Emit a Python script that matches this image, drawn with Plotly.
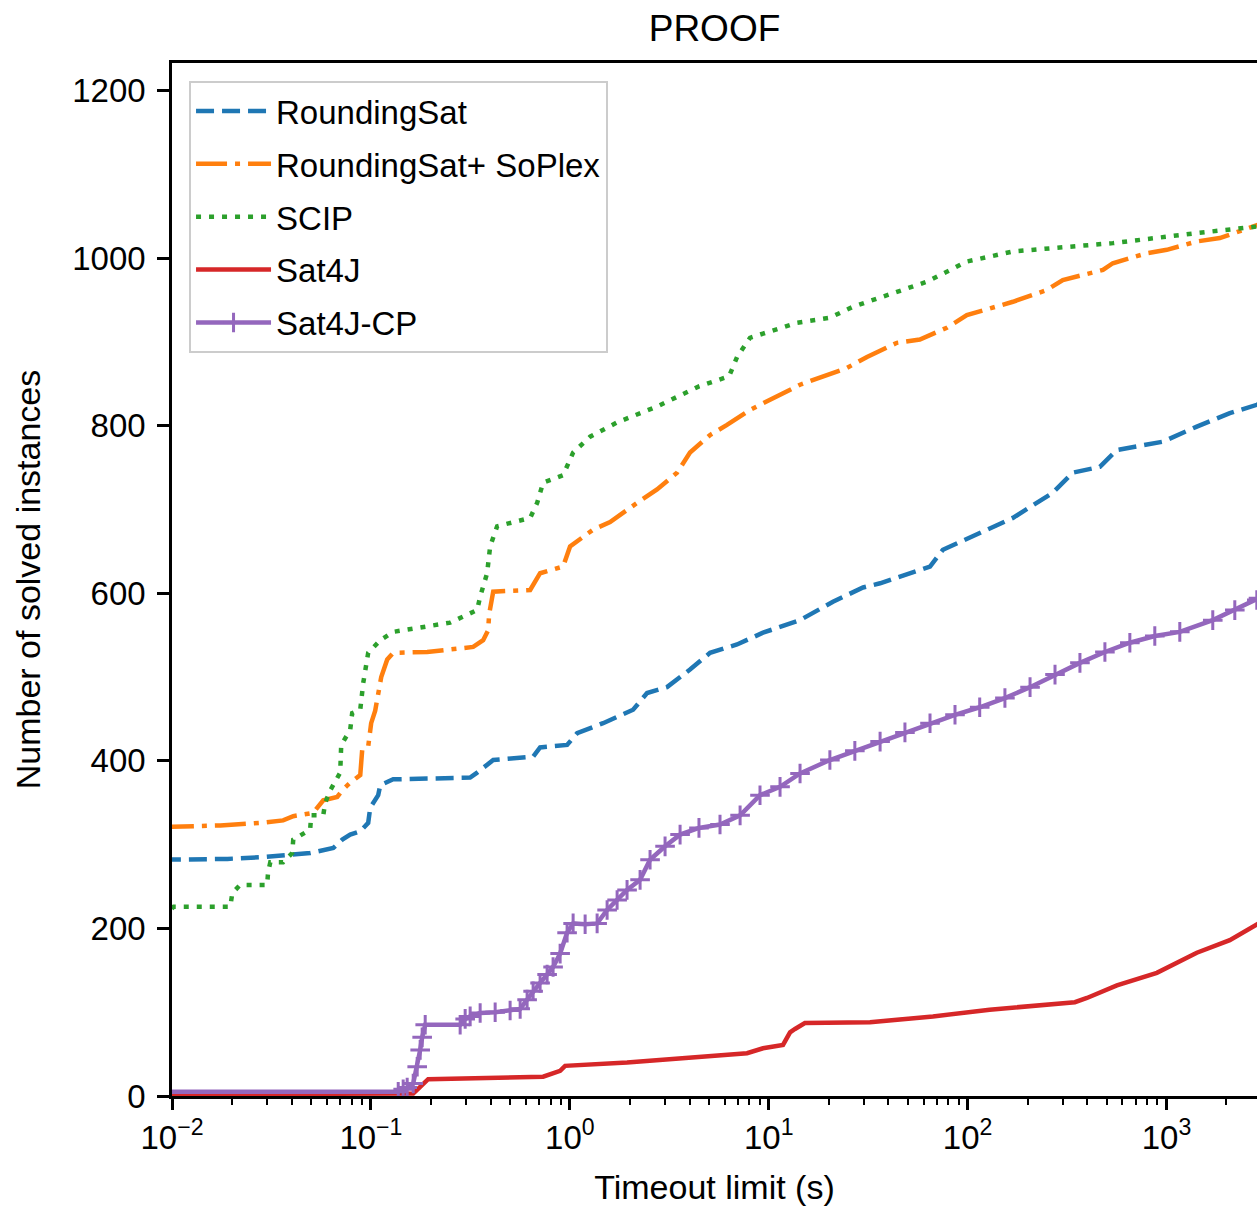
import math
import plotly.graph_objects as go

# ---------------- data ----------------
rs_time = [0.009, 0.019, 0.0278, 0.038, 0.0495, 0.0647, 0.0718, 0.0787, 0.0884, 0.0969, 0.0992,
           0.1088, 0.1114, 0.1294, 0.3155, 0.342, 0.412, 0.654, 0.709, 0.969, 1.088, 1.47, 2.08,
           2.446, 3.08, 4.02, 5.07, 6.93, 9.36, 14.37, 21.04, 29.8, 36.3, 64.7, 75.1, 168.9, 268,
           338, 462, 563, 958, 1420, 2080, 2844, 2900]
rs_count = [282, 283, 285, 288, 290, 296, 306, 312, 316, 326, 344,
            359, 371, 378, 380, 386, 401, 405, 416, 419, 433, 445, 461,
            481, 488, 509, 529, 539, 553, 568, 590, 607, 612, 632, 652, 690, 720,
            744, 751, 771, 781, 799, 815, 825, 826]

rss_time = [0.009, 0.0175, 0.0278, 0.0362, 0.0407, 0.0513, 0.0576, 0.0677, 0.0718, 0.0787, 0.0884,
            0.0904, 0.0969, 0.1003, 0.1051, 0.1088, 0.1127, 0.1208, 0.1294, 0.1918, 0.3268, 0.3667,
            0.3885, 0.393, 0.412, 0.632, 0.709, 0.925, 1.003, 1.31, 1.594, 2.18, 2.745, 3.46, 4.02,
            5.07, 6.17, 8.05, 10.51, 14.37, 24.7, 31.2, 44.1, 57.5, 78.6, 99.1, 168.9, 250, 301,
            479, 537, 796, 1003, 1420, 1853, 2844, 2900]
rss_count = [321, 323, 326, 329, 334, 338, 353, 357, 365, 374, 383,
             413, 417, 445, 460, 480, 500, 521, 529, 530, 536, 544,
             556, 575, 602, 604, 624, 632, 656, 676, 685, 708, 724, 744, 768,
             789, 801, 819, 833, 849, 869, 882, 899, 903, 917, 932, 948, 962, 974,
             986, 994, 1006, 1010, 1020, 1024, 1039, 1040]

scip_time = [0.009, 0.0102, 0.01963, 0.0201, 0.022, 0.0301, 0.0304, 0.0312, 0.0362, 0.0402, 0.0407,
             0.0495, 0.0501, 0.0576, 0.0589, 0.0625, 0.0701, 0.0709, 0.0787, 0.0805, 0.0884, 0.0915,
             0.0969, 0.1114, 0.1294, 0.1918, 0.2503, 0.342, 0.3542, 0.384, 0.3976, 0.431, 0.632,
             0.685, 0.734, 0.925, 1.039, 1.265, 1.729, 2.745, 4.46, 6.32, 6.93, 8.05, 13.88, 20.3,
             26.5, 62.5, 84.4, 99.1, 168.9, 537, 1420, 2844, 2900]
scip_count = [212, 226, 226, 242, 252, 252, 267, 279, 279, 290, 306,
              318, 335, 335, 350, 365, 386, 419, 437, 457, 461, 493,
              529, 544, 554, 560, 565, 580, 596, 624, 656, 680, 690,
              708, 732, 741, 768, 787, 804, 823, 847, 859, 882, 905, 923, 929,
              942, 972, 988, 996, 1008, 1018, 1030, 1038, 1038]

sat4j_time = [0.009, 0.1632, 0.1769, 0.194, 0.734, 0.894, 0.947, 1.94, 7.78, 9.36, 11.8, 12.8,
              13.56, 15.2, 32.3, 66.9, 129, 230.8, 346, 398, 563, 894, 1420, 2080, 2844, 2900]
sat4j_count = [2, 3, 11, 20, 23, 30, 36, 40, 51, 57, 61, 76,
               80, 87, 88, 95, 103, 108, 112, 117, 132, 147, 171, 186, 204, 206]

cp_time = [0.009, 0.1372, 0.1453, 0.1522, 0.1632, 0.1709, 0.1769, 0.181, 0.1875, 0.281, 0.2978,
           0.3155, 0.3542, 0.4214, 0.501, 0.5628, 0.61, 0.654, 0.709, 0.769, 0.824, 0.894, 0.969,
           1.039, 1.194, 1.372, 1.54, 1.729, 1.94, 2.256, 2.532, 3.012, 3.584, 4.46, 5.69, 7.18,
           9.04, 11.4, 14.37, 20.3, 27.1, 36.3, 48.4, 64.7, 86.4, 115, 154, 206, 275, 367, 490,
           654, 873, 1166, 1708, 2204, 2844, 2900]
cp_count = [5, 5, 8, 10, 15, 35, 55, 70, 85, 85, 92,
            95, 99, 100, 102, 104, 115, 125, 135, 145, 154, 170, 195,
            206, 205, 206, 222, 234, 246, 258, 282, 298, 312, 320, 324, 335,
            359, 369, 385, 401, 412, 423, 434, 445, 455, 464, 475, 488, 503, 517, 530,
            541, 549, 554, 568, 580, 592, 594]

x_tick_vals = [0.01, 0.1, 1, 10, 100, 1000]
x_tick_text = ["10<sup>\u22122</sup>", "10<sup>\u22121</sup>", "10<sup>0</sup>",
               "10<sup>1</sup>", "10<sup>2</sup>", "10<sup>3</sup>"]
y_tick_vals = [0, 200, 400, 600, 800, 1000, 1200]

x_max = 2850
y_max = 1233

# ---------------- styling ----------------
FONT = "Liberation Sans, Arial, Helvetica, sans-serif"
LW = 4.5

fig = go.Figure()

series = [
    ("RoundingSat", rs_time, rs_count, "#1f77b4", "18px,8px", None),
    ("RoundingSat+ SoPlex", rss_time, rss_count, "#ff7f0e", "31px,8px,5px,8px", None),
    ("SCIP", scip_time, scip_count, "#2ca02c", "5px,8px", None),
    ("Sat4J", sat4j_time, sat4j_count, "#d62728", "solid", None),
    ("Sat4J-CP", cp_time, cp_count, "#9467bd", "solid", "cross-thin"),
]

for i, (name, xs, ys, col, dash, sym) in enumerate(series):
    kw = dict(mode="lines")
    if sym:
        kw = dict(mode="lines+markers",
                  marker=dict(symbol=sym, size=14, color=col,
                              line=dict(color=col, width=3)))
    fig.add_trace(go.Scatter(
        x=xs, y=ys, name=name, legendgroup=f"g{i}",
        line=dict(color=col, width=LW, dash=dash),
        cliponaxis=True, **kw))

minor_vals = [m * 10 ** k for k in range(-2, 4) for m in range(2, 10) if m * 10 ** k <= x_max]

fig.update_xaxes(
    type="log", range=[-2, math.log10(x_max)],
    tickmode="array", tickvals=x_tick_vals, ticktext=x_tick_text,
    ticks="outside", ticklen=11, tickwidth=2.5, tickcolor="black",
    showline=True, linewidth=2.5, linecolor="black", mirror=True,
    showgrid=False, zeroline=False,
    tickfont=dict(size=33, family=FONT, color="black"),
    minor=dict(tickmode="array", tickvals=minor_vals, ticks="outside",
               ticklen=6, tickwidth=2, tickcolor="black", showgrid=False),
    title=dict(text="Timeout limit (s)", font=dict(size=34, family=FONT, color="black"),
               standoff=20),
)
fig.update_yaxes(
    range=[0, y_max], tickmode="array", tickvals=y_tick_vals,
    ticks="outside", ticklen=12, tickwidth=2.5, tickcolor="black",
    showline=True, linewidth=2.5, linecolor="black",
    showgrid=False, zeroline=False, ticklabelstandoff=5,
    tickfont=dict(size=33, family=FONT, color="black"),
    title=dict(text="Number of solved instances", font=dict(size=34, family=FONT, color="black"),
               standoff=22),
)

fig.update_layout(
    width=1257, height=1208,
    margin=dict(l=172, r=0, t=63, b=112),
    paper_bgcolor="white", plot_bgcolor="white",
    font=dict(family=FONT, size=32, color="black"),
    title=dict(text="PROOF", x=0.5, xref="paper", xanchor="center",
               y=1 - 28 / 1208, yref="container", yanchor="middle",
               font=dict(size=37, family=FONT, color="black")),
    showlegend=True,
    legend=dict(x=0.0157, y=0.9826, xanchor="left", yanchor="top",
                bgcolor="white", bordercolor="#cccccc", borderwidth=2,
                font=dict(size=33, family=FONT, color="black"),
                traceorder="grouped", tracegroupgap=7, itemwidth=75),
)

fig.write_html("out.html")
